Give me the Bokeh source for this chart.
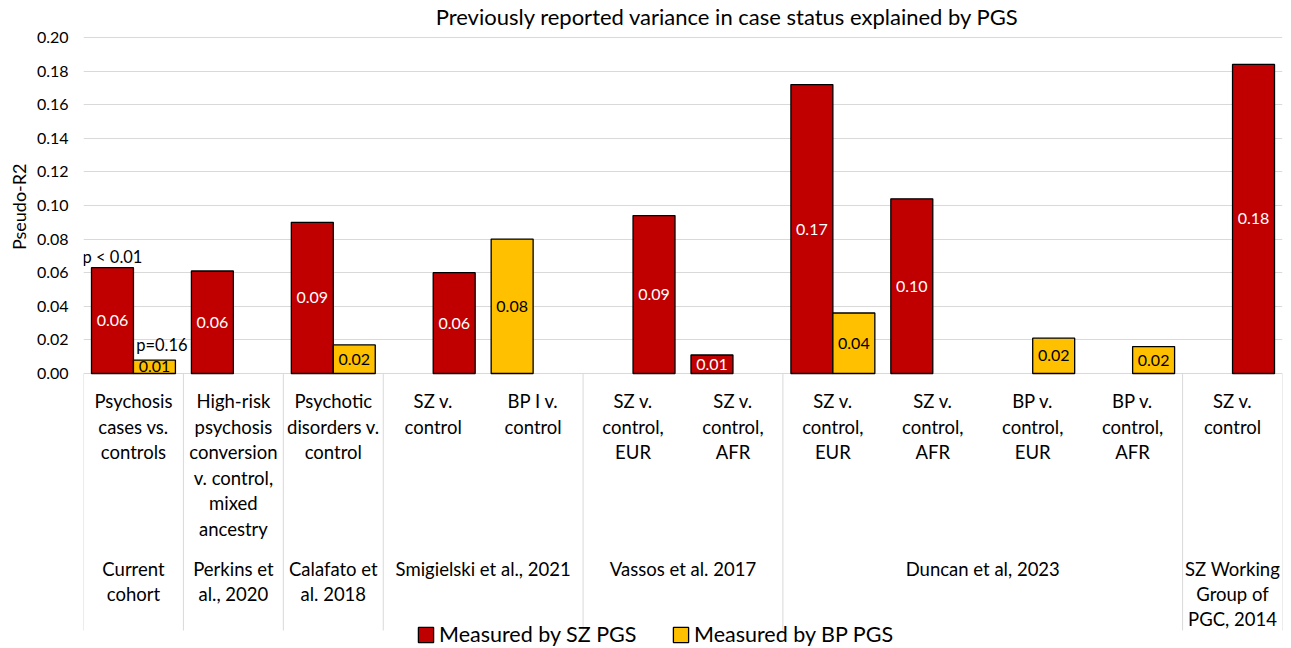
from bokeh.plotting import figure
from bokeh.models import (ColumnDataSource, Range1d, FixedTicker, PrintfTickFormatter,
                          Label, Legend, LegendItem, Title)
from bokeh.core.properties import value
from bokeh.embed import file_html
from bokeh.resources import INLINE

# ---------------- data ----------------
TITLE = "Previously reported variance in case status explained by PGS"
Y_LABEL = "Pseudo-R2"
SERIES = ["Measured by SZ PGS", "Measured by BP PGS"]
SUB_LABELS = [
    "Psychosis\ncases vs.\ncontrols",
    "High-risk\npsychosis\nconversion\nv. control,\nmixed\nancestry",
    "Psychotic\ndisorders v.\ncontrol",
    "SZ v.\ncontrol",
    "BP I v.\ncontrol",
    "SZ v.\ncontrol,\nEUR",
    "SZ v.\ncontrol,\nAFR",
    "SZ v.\ncontrol,\nEUR",
    "SZ v.\ncontrol,\nAFR",
    "BP v.\ncontrol,\nEUR",
    "BP v.\ncontrol,\nAFR",
    "SZ v.\ncontrol",
]
GROUP_LABELS = ["Current\ncohort", "Perkins et\nal., 2020", "Calafato et\nal. 2018",
                "Smigielski et al., 2021", "Vassos et al. 2017", "Duncan et al, 2023",
                "SZ Working\nGroup of\nPGC, 2014"]
GROUP_SIZES = [1, 1, 1, 2, 2, 4, 1]
SZ_VALUES = [0.063, 0.061, 0.090, 0.060, None, 0.094, 0.011, 0.172, 0.104, None, None, 0.184]
BP_VALUES = [0.008, None, 0.017, None, 0.080, None, None, 0.036, None, 0.021, 0.016, None]
Y_TICKS = [0.00, 0.02, 0.04, 0.06, 0.08, 0.10, 0.12, 0.14, 0.16, 0.18, 0.20]
P_NOTES = ["p < 0.01", "p=0.16"]   # significance notes on the first category (SZ, BP)

# ---------------- layout (not data) ----------------
W, H = 1291, 648
SZ_SIDE = [-1, -1, -1, 1, 0, 1, -1, -1, -1, 0, 0, 1]
BP_SIDE = [1, 0, 1, 0, -1, 0, 0, 1, 0, 1, 1, 0]
BAR_W = 0.42
PX_PER_UNIT = 1680.0
ZERO_PY = 373.0
LEFT_PX = 83.0
RIGHT_PX = 1282.0


def ydata(py):
    return (ZERO_PY - py) / PX_PER_UNIT


FONT = "Lato"
RED = "#C00000"
YEL = "#FFC000"
GRID = "#d9d9d9"
TXT = "#000000"

n = len(SUB_LABELS)
CAT_PX = (RIGHT_PX - LEFT_PX) / n


def xdata(px):
    return (px - LEFT_PX) / CAT_PX


p = figure(width=W, height=H, x_range=Range1d(0, n),
           y_range=Range1d(ydata(H), ydata(0)),
           x_axis_location=None, toolbar_location=None, output_backend="svg",
           min_border_left=int(LEFT_PX), min_border_right=int(W - RIGHT_PX),
           min_border_top=0, min_border_bottom=0)
p.outline_line_color = None
p.xgrid.visible = False

# y axis
p.yaxis.ticker = FixedTicker(ticks=Y_TICKS)
p.yaxis.formatter = PrintfTickFormatter(format="%.2f")
p.yaxis.axis_line_color = None
p.yaxis.major_tick_line_color = None
p.yaxis.minor_tick_line_color = None
p.yaxis.major_tick_out = 0
p.yaxis.major_tick_in = 0
p.yaxis.major_label_standoff = 15
p.yaxis.major_label_text_font = FONT
p.yaxis.major_label_text_font_size = "16px"
p.yaxis.major_label_text_color = TXT
p.yaxis.bounds = (Y_TICKS[0], Y_TICKS[-1])
p.ygrid.grid_line_color = GRID
p.ygrid.grid_line_width = 1

# y-axis title, placed beside the tick labels
p.add_layout(Title(text=Y_LABEL, align="right", offset=163, standoff=7,
                   text_font=FONT, text_font_size="18px", text_font_style="normal",
                   text_color=TXT), "left")

# group separators
bounds = [0]
for s in GROUP_SIZES:
    bounds.append(bounds[-1] + s)
p.segment(x0=bounds, y0=[0] * len(bounds), x1=bounds, y1=[ydata(630)] * len(bounds),
          line_color=GRID, line_width=1)


def series_source(vals, sides):
    xs, tops, labs, ly = [], [], [], []
    for i, (v, s) in enumerate(zip(vals, sides)):
        if v is None:
            continue
        xs.append(i + 0.5 + s * BAR_W / 2)
        tops.append(v)
        labs.append(f"{v:.2f}")
        ly.append(v / 2)
    return ColumnDataSource(dict(x=xs, top=tops, lab=labs, ly=ly))


sz_src = series_source(SZ_VALUES, SZ_SIDE)
bp_src = series_source(BP_VALUES, BP_SIDE)

r_sz = p.vbar(x="x", top="top", bottom=0, width=BAR_W, source=sz_src,
              fill_color=RED, line_color="black", line_width=1.3)
r_bp = p.vbar(x="x", top="top", bottom=0, width=BAR_W, source=bp_src,
              fill_color=YEL, line_color="black", line_width=1.3)

p.text(x="x", y="ly", text="lab", source=sz_src, text_font=value(FONT),
       text_font_size="16px", text_color="white", text_align="center", text_baseline="middle")
p.text(x="x", y="ly", text="lab", source=bp_src, text_font=value(FONT),
       text_font_size="16px", text_color=TXT, text_align="center", text_baseline="middle")

# p-value notes above first category's bars
note_x = [0.5 + SZ_SIDE[0] * BAR_W / 2, 0.5 + BP_SIDE[0] * BAR_W / 2 + 0.075]
note_y = [SZ_VALUES[0] + 11 / PX_PER_UNIT, BP_VALUES[0] + 15 / PX_PER_UNIT]
p.text(x=note_x, y=note_y, text=P_NOTES, text_font=value(FONT), text_font_size="16.5px",
       text_color=TXT, text_align="center", text_baseline="middle")

# category labels (one row per text line)
cx, cy, ct = [], [], []
for i, lab in enumerate(SUB_LABELS):
    for k, line in enumerate(lab.split("\n")):
        cx.append(i + 0.5)
        cy.append(ydata(400.7 + 25.5 * k))
        ct.append(line)
p.text(x=cx, y=cy, text=ct, text_font=value(FONT), text_font_size="18.5px",
       text_color=TXT, text_align="center", text_baseline="middle")

gx, gy, gt = [], [], []
for g, lab in enumerate(GROUP_LABELS):
    center = (bounds[g] + bounds[g + 1]) / 2
    for k, line in enumerate(lab.split("\n")):
        gx.append(center)
        gy.append(ydata(568.3 + 25 * k))
        gt.append(line)
p.text(x=gx, y=gy, text=gt, text_font=value(FONT), text_font_size="18.5px",
       text_color=TXT, text_align="center", text_baseline="middle")

# title
p.add_layout(Label(x=xdata(727), y=ydata(16), text=TITLE, text_font=FONT,
                   text_font_size="22px", text_color=TXT, text_align="center",
                   text_baseline="middle"))

# legends
for r, lab, gx0 in [(r_sz, SERIES[0], 416), (r_bp, SERIES[1], 671)]:
    leg = Legend(items=[LegendItem(label=lab, renderers=[r])],
                 location=(gx0 - LEFT_PX, 1),
                 orientation="horizontal", glyph_width=19, glyph_height=19,
                 label_standoff=4, padding=0, margin=0, spacing=0,
                 border_line_color=None, background_fill_alpha=0,
                 label_text_font=FONT, label_text_font_size="21.5px", label_text_color=TXT)
    p.add_layout(leg, "center")

open("out.html", "w").write(file_html(p, INLINE))
